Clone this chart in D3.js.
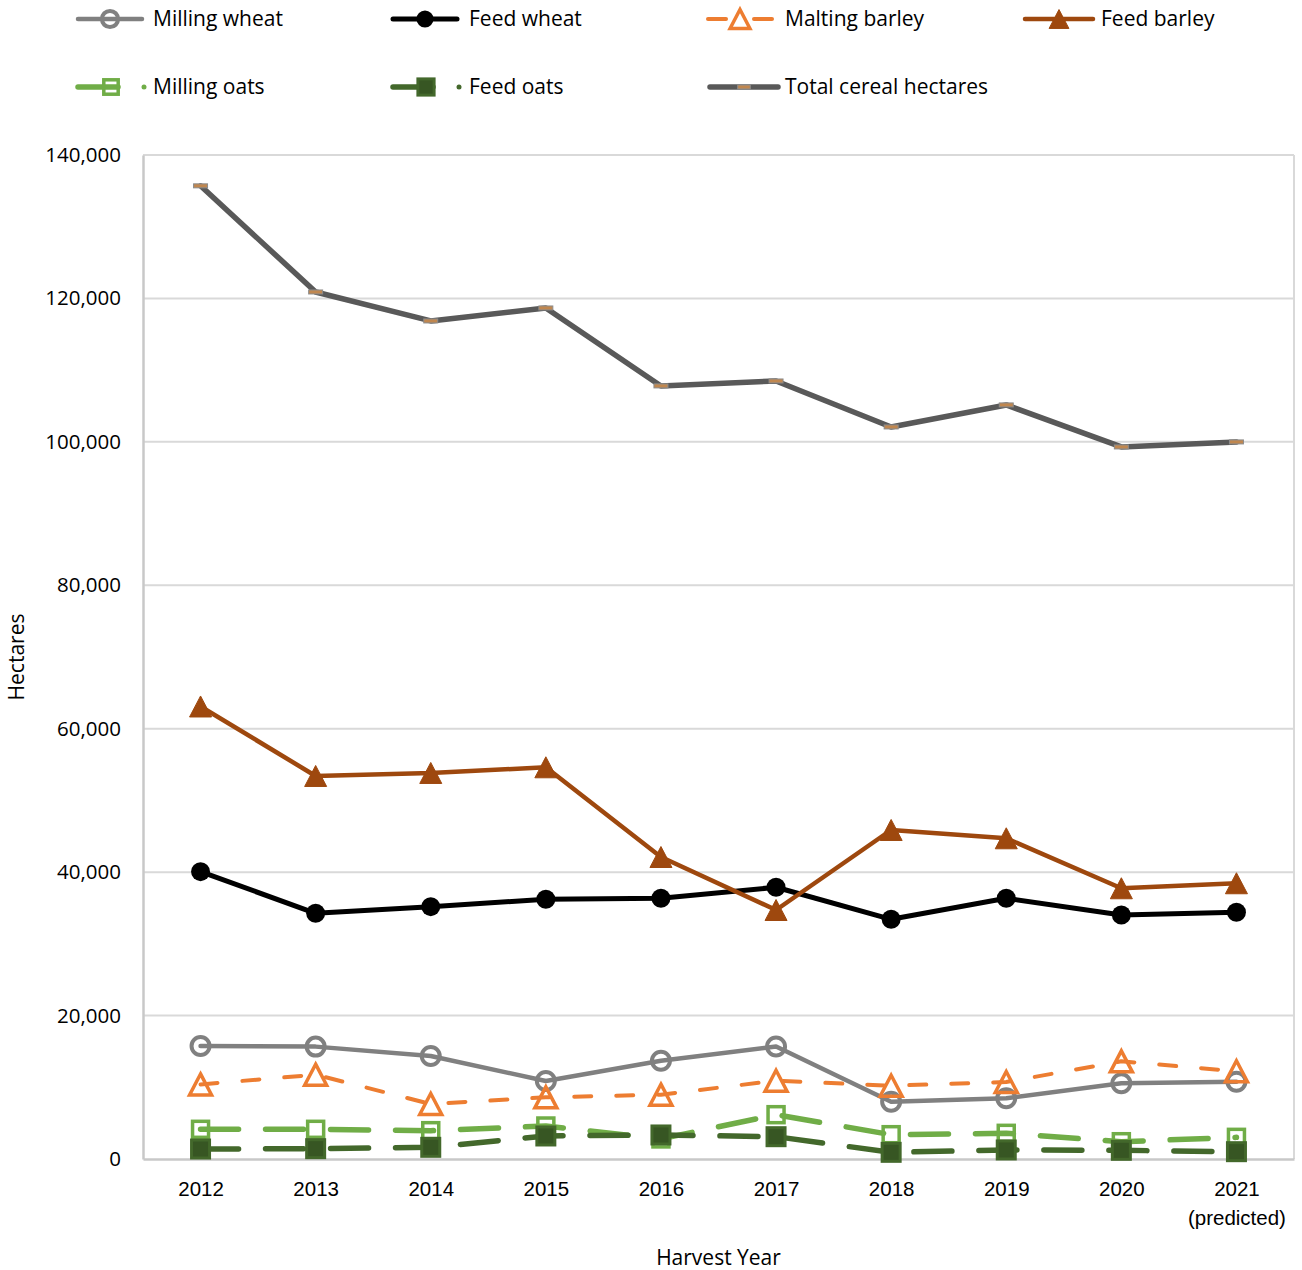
<!DOCTYPE html>
<html>
<head>
<meta charset="utf-8">
<script src="https://cdn.jsdelivr.net/npm/d3@7"></script>
<style>
  html, body { margin: 0; padding: 0; background: #fff; }
  svg { display: block; font-family: "Open Sans", "Noto Sans", sans-serif; }
</style>
</head>
<body>
<svg id="chart" width="1302" height="1270"></svg>
<script>
// Harvest years (last year is a forecast)
const years = ["2012", "2013", "2014", "2015", "2016", "2017", "2018", "2019", "2020", "2021"];
const yearLabels = ["2012", "2013", "2014", "2015", "2016", "2017", "2018", "2019", "2020", "2021\n(predicted)"];

// Hectares per crop and harvest year
const millingWheat  = [15760, 15670, 14360, 10880, 13710, 15690, 7990, 8460, 10560, 10780];
const feedWheat     = [40070, 34260, 35190, 36210, 36350, 37890, 33420, 36350, 34030, 34400];
const maltingBarley = [10400, 11760, 7670, 8600, 8970, 10920, 10220, 10740, 13620, 12230];
const feedBarley    = [63100, 53410, 53830, 54620, 42110, 34720, 45880, 44720, 37750, 38450];
const millingOats   = [4140, 4140, 3950, 4600, 2800, 6180, 3390, 3580, 2410, 3020];
const feedOats      = [1390, 1440, 1630, 3210, 3350, 3110, 930, 1260, 1210, 1020];
const totalCereal   = [135700, 120900, 116860, 118670, 107800, 108490, 102080, 105150, 99290, 99990];

const yTicks = [0, 20000, 40000, 60000, 80000, 100000, 120000, 140000];

const series = [
  { name: "Milling wheat", values: millingWheat, color: "#808080", width: 4.5, dash: null, marker: "circleOpen" },
  { name: "Feed wheat", values: feedWheat, color: "#000000", width: 5, dash: null, marker: "circle" },
  { name: "Malting barley", values: maltingBarley, color: "#ED7D31", width: 4, dash: "17,25", marker: "triangleOpen" },
  { name: "Feed barley", values: feedBarley, color: "#9E480E", width: 4.5, dash: null, marker: "triangle" },
  { name: "Milling oats", values: millingOats, color: "#70AD47", width: 5.5, dash: "38,27", marker: "squareOpen" },
  { name: "Feed oats", values: feedOats, color: "#43682B", width: 5.5, dash: "38,27", marker: "square" },
  { name: "Total cereal hectares", values: totalCereal, color: "#595959", width: 5.5, dash: null, marker: "dash" }
];

const svg = d3.select("#chart");
const margin = { left: 143, right: 8, top: 155, bottom: 111 };
const W = 1302, H = 1270;

const x = d3.scalePoint().domain(years).range([margin.left, W - margin.right]).padding(0.5);
const y = d3.scaleLinear().domain([0, 140000]).range([H - margin.bottom, margin.top]);

// gridlines
svg.append("g")
  .selectAll("line")
  .data(yTicks.slice(1))
  .join("line")
  .attr("x1", margin.left).attr("x2", W - margin.right)
  .attr("y1", d => y(d)).attr("y2", d => y(d))
  .attr("stroke", "#D9D9D9").attr("stroke-width", 2);

// right border of the plot area
svg.append("line")
  .attr("x1", W - margin.right).attr("x2", W - margin.right)
  .attr("y1", y(140000)).attr("y2", y(0))
  .attr("stroke", "#D9D9D9").attr("stroke-width", 2);

// y axis
const yAxis = svg.append("g")
  .attr("transform", `translate(${margin.left},0)`)
  .call(d3.axisLeft(y).tickValues(yTicks).tickSize(0).tickPadding(22).tickFormat(d3.format(",")));
yAxis.select(".domain").attr("stroke", "#C8C8C8").attr("stroke-width", 2.5);
yAxis.selectAll("text").attr("font-size", 20.5).attr("fill", "#000").attr("font-family", "Open Sans");

// x axis
const xAxis = svg.append("g")
  .attr("transform", `translate(0,${y(0)})`)
  .call(d3.axisBottom(x).tickSize(0).tickPadding(22).tickFormat(() => ""));
xAxis.select(".domain").attr("stroke", "#C8C8C8").attr("stroke-width", 2.5);
xAxis.selectAll(".tick text").each(function(d, i) {
  const t = d3.select(this).text(null).attr("font-size", 20.5).attr("fill", "#000");
  yearLabels[i].split("\n").forEach((s, j) => {
    t.append("tspan").attr("x", 0).attr("dy", j === 0 ? "0.71em" : "1.45em").text(s);
  });
});

// axis titles
svg.append("text")
  .attr("x", (margin.left + W - margin.right) / 2).attr("y", 1265)
  .attr("text-anchor", "middle").attr("font-size", 21).attr("fill", "#000")
  .text("Harvest Year");
svg.append("text")
  .attr("transform", `translate(24,${(y(0) + y(140000)) / 2}) rotate(-90)`)
  .attr("text-anchor", "middle").attr("font-size", 21).attr("fill", "#000")
  .text("Hectares");

// marker drawing helper
function drawMarker(g, type, color, cx, cy, scale = 1) {
  const s = scale;
  if (type === "circleOpen") {
    g.append("circle").attr("cx", cx).attr("cy", cy).attr("r", 9 * s)
      .attr("fill", "none").attr("stroke", color).attr("stroke-width", 4);
  } else if (type === "circle") {
    g.append("circle").attr("cx", cx).attr("cy", cy).attr("r", 9.5 * s).attr("fill", color);
  } else if (type === "triangleOpen" || type === "triangle") {
    const h = 21 * s, w = 22 * s;
    const pts = [[cx, cy - h / 2], [cx + w / 2, cy + h / 2], [cx - w / 2, cy + h / 2]];
    g.append("polygon").attr("points", pts.map(p => p.join(",")).join(" "))
      .attr("fill", type === "triangle" ? color : "none")
      .attr("stroke", color).attr("stroke-width", type === "triangle" ? 1 : 3.5)
      .attr("stroke-linejoin", "miter");
  } else if (type === "squareOpen") {
    const a = 16 * s;
    g.append("rect").attr("x", cx - a / 2).attr("y", cy - a / 2).attr("width", a).attr("height", a)
      .attr("fill", "none").attr("stroke", color).attr("stroke-width", 3.5);
  } else if (type === "square") {
    const a = 18 * s;
    g.append("rect").attr("x", cx - a / 2).attr("y", cy - a / 2).attr("width", a).attr("height", a)
      .attr("fill", "#375623").attr("stroke", color).attr("stroke-width", 3);
  } else if (type === "dash") {
    g.append("rect").attr("x", cx - 7 * s).attr("y", cy - 2).attr("width", 14 * s).attr("height", 4)
      .attr("fill", "#C0874F").attr("stroke", "#8C8C8C").attr("stroke-width", 1);
  }
}

// series lines and markers
const line = d3.line().x((d, i) => x(years[i])).y(d => y(d));
const plot = svg.append("g");
series.forEach(s => {
  const g = plot.append("g");
  g.append("path")
    .attr("d", line(s.values))
    .attr("fill", "none")
    .attr("stroke", s.color)
    .attr("stroke-width", s.width)
    .attr("stroke-linejoin", "round")
    .attr("stroke-linecap", "round")
    .attr("stroke-dasharray", s.dash);
  s.values.forEach((v, i) => drawMarker(g, s.marker, s.color, x(years[i]), y(v)));
});

// legend
const legendItems = [
  { s: series[0], lx: 78, ly: 19, len: 64, tx: 153 },
  { s: series[1], lx: 393, ly: 19, len: 64, tx: 469 },
  { s: series[2], lx: 708, ly: 19, len: 64, tx: 785 },
  { s: series[3], lx: 1025, ly: 19, len: 68, tx: 1101 },
  { s: series[4], lx: 78, ly: 87, len: 40, tx: 153, dot: 144 },
  { s: series[5], lx: 393, ly: 87, len: 40, tx: 469, dot: 459 },
  { s: series[6], lx: 710, ly: 87, len: 68, tx: 785 }
];
const legend = svg.append("g");
legendItems.forEach(it => {
  const g = legend.append("g");
  const broken = it.s.name === "Malting barley";
  g.append("line")
    .attr("x1", it.lx).attr("x2", broken ? it.lx + 18 : it.lx + it.len)
    .attr("y1", it.ly).attr("y2", it.ly)
    .attr("stroke", it.s.color).attr("stroke-width", it.s.width)
    .attr("stroke-linecap", "round");
  if (broken) {
    g.append("line").attr("x1", it.lx + 46).attr("x2", it.lx + it.len)
      .attr("y1", it.ly).attr("y2", it.ly)
      .attr("stroke", it.s.color).attr("stroke-width", it.s.width).attr("stroke-linecap", "round");
  }
  const mx = it.dot ? it.lx + 33 : it.lx + it.len / 2;
  drawMarker(g, it.s.marker, it.s.color, mx, it.ly, 0.9);
  if (it.dot) {
    g.append("circle").attr("cx", it.dot).attr("cy", it.ly).attr("r", 2.5).attr("fill", it.s.color);
  }
  g.append("text")
    .attr("x", it.tx).attr("y", it.ly).attr("dy", "0.35em")
    .attr("font-size", 21).attr("fill", "#000")
    .text(it.s.name);
});
</script>
</body>
</html>
